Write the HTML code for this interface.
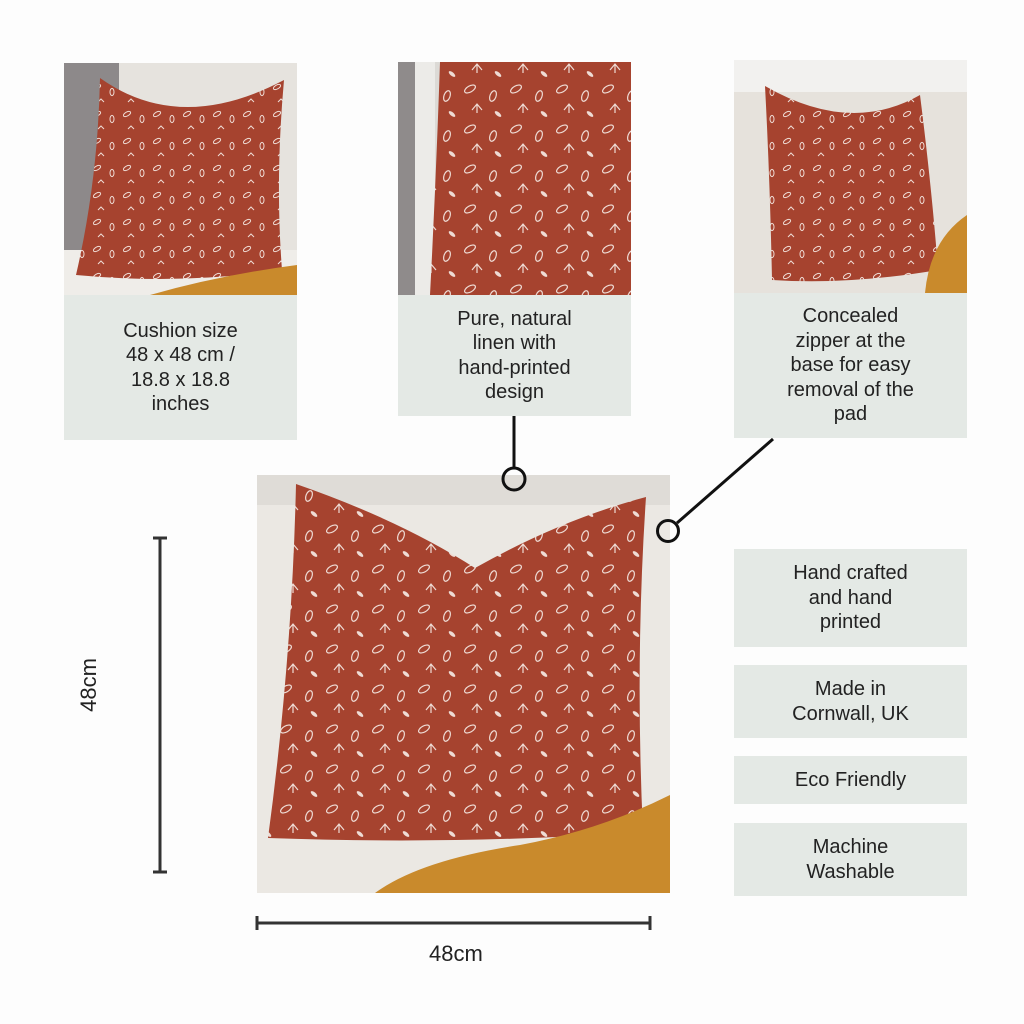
<!DOCTYPE html>
<html><head><meta charset="utf-8"><style>
html,body{margin:0;padding:0;background:#fdfdfd;}
body{width:1024px;height:1024px;position:relative;overflow:hidden;font-family:"Liberation Sans",sans-serif;color:#222;}
.box{position:absolute;background:#e4e9e5;display:flex;align-items:center;justify-content:center;text-align:center;font-size:20px;line-height:24.5px;}
svg{position:absolute;left:0;top:0;}
.t{position:absolute;font-size:22px;}
</style></head><body>
<svg width="1024" height="1024" viewBox="0 0 1024 1024">
<defs>
<pattern id="lv" width="46" height="40" patternUnits="userSpaceOnUse">
<rect width="46" height="40" fill="#a6432f"/>
<ellipse cx="10" cy="9" rx="6" ry="3" fill="none" stroke="#efdcd5" stroke-width="1.2" transform="rotate(-30 10 9)"/>
<ellipse cx="33" cy="16" rx="3" ry="5.5" fill="none" stroke="#efdcd5" stroke-width="1.2" transform="rotate(20 33 16)"/>
<path d="M12 30 l5 -6 l5 6 M17 24 v9" stroke="#efdcd5" stroke-width="1.2" fill="none"/>
<ellipse cx="38" cy="34" rx="4" ry="1.8" fill="#efdcd5" transform="rotate(40 38 34)"/>
</pattern>
<pattern id="lv2" width="30" height="27" patternUnits="userSpaceOnUse">
<rect width="30" height="27" fill="#a6432f"/>
<ellipse cx="7" cy="6" rx="4" ry="2" fill="none" stroke="#efdcd5" stroke-width="1" transform="rotate(-30 7 6)"/>
<ellipse cx="22" cy="11" rx="2" ry="3.6" fill="none" stroke="#efdcd5" stroke-width="1"/>
<path d="M8 21 l3 -3 l3 3" stroke="#efdcd5" stroke-width="1" fill="none"/>
</pattern>
<clipPath id="c1"><rect x="64" y="63" width="233" height="232"/></clipPath>
<clipPath id="c2"><rect x="398" y="62" width="233" height="233"/></clipPath>
<clipPath id="c3"><rect x="734" y="60" width="233" height="233"/></clipPath>
<clipPath id="c4"><rect x="257" y="475" width="413" height="418"/></clipPath>
</defs>
<g clip-path="url(#c1)">
<rect x="64" y="63" width="233" height="232" fill="#e6e3de"/>
<rect x="64" y="63" width="55" height="200" fill="#8d898a"/>
<rect x="64" y="250" width="233" height="45" fill="#efede9"/>
<path d="M100 78 Q180 135 284 80 Q275 180 282 270 Q180 285 76 275 Q98 180 100 78Z" fill="url(#lv2)"/>
<path d="M150 295 Q220 275 297 265 L297 295Z" fill="#c98a2c"/>
</g>
<g clip-path="url(#c2)">
<rect x="398" y="62" width="233" height="233" fill="#dcdad6"/>
<rect x="398" y="62" width="35" height="233" fill="#8f8b8b"/>
<rect x="415" y="62" width="20" height="233" fill="#ecebe8"/>
<path d="M440 62 L631 62 L631 295 L430 295 Q436 180 440 62Z" fill="url(#lv)"/>
</g>
<g clip-path="url(#c3)">
<rect x="734" y="60" width="233" height="233" fill="#f2f1ef"/>
<rect x="734" y="92" width="233" height="201" fill="#e6e2dc"/>
<path d="M765 86 Q850 135 920 95 Q932 190 938 270 Q850 285 772 280 Q770 180 765 86Z" fill="url(#lv2)"/>
<path d="M925 293 Q930 240 967 215 L967 293Z" fill="#c98a2c"/>
</g>
<g clip-path="url(#c4)">
<rect x="257" y="475" width="413" height="418" fill="#dfdcd7"/>
<rect x="257" y="505" width="413" height="388" fill="#ebe8e3"/>
<path d="M296 484 Q400 520 475 568 Q560 520 646 497 Q635 660 643 832 Q460 845 268 838 Q292 660 296 484Z" fill="url(#lv)"/>
<path d="M375 893 Q420 860 520 845 Q600 830 670 795 L670 893Z" fill="#c98a2c"/>
</g>
<line x1="514" y1="416" x2="514" y2="468" stroke="#111" stroke-width="3"/>
<circle cx="514" cy="479" r="11" fill="none" stroke="#111" stroke-width="3"/>
<line x1="773" y1="439" x2="677" y2="523" stroke="#111" stroke-width="3"/>
<circle cx="668" cy="531" r="10.5" fill="none" stroke="#111" stroke-width="3"/>
<line x1="160" y1="538" x2="160" y2="872" stroke="#333" stroke-width="3"/>
<line x1="153" y1="538" x2="167" y2="538" stroke="#333" stroke-width="3"/>
<line x1="153" y1="872" x2="167" y2="872" stroke="#333" stroke-width="3"/>
<line x1="257" y1="923" x2="650" y2="923" stroke="#333" stroke-width="3"/>
<line x1="257" y1="916" x2="257" y2="930" stroke="#333" stroke-width="3"/>
<line x1="650" y1="916" x2="650" y2="930" stroke="#333" stroke-width="3"/>
<text x="0" y="0" font-family="Liberation Sans, sans-serif" font-size="22" fill="#222" text-anchor="middle" transform="translate(96 685) rotate(-90)">48cm</text>
</svg>
<div class="t" style="left:429px;top:941px;">48cm</div>
<div class="box" style="left:64px;top:295px;width:233px;height:145px;">Cushion size<br>48 x 48 cm /<br>18.8 x 18.8<br>inches</div>
<div class="box" style="left:398px;top:295px;width:233px;height:121px;">Pure, natural<br>linen with<br>hand-printed<br>design</div>
<div class="box" style="left:734px;top:293px;width:233px;height:145px;">Concealed<br>zipper at the<br>base for easy<br>removal of the<br>pad</div>
<div class="box" style="left:734px;top:549px;width:233px;height:98px;">Hand crafted<br>and hand<br>printed</div>
<div class="box" style="left:734px;top:665px;width:233px;height:73px;">Made in<br>Cornwall, UK</div>
<div class="box" style="left:734px;top:756px;width:233px;height:48px;">Eco Friendly</div>
<div class="box" style="left:734px;top:823px;width:233px;height:73px;">Machine<br>Washable</div>
</body></html>
